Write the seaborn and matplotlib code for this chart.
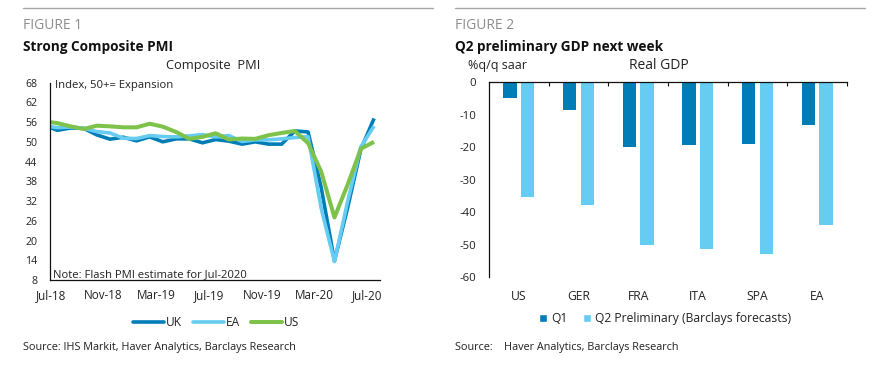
import numpy as np
import pandas as pd
import matplotlib
matplotlib.use("Agg")
import matplotlib.pyplot as plt
import seaborn as sns
from matplotlib.lines import Line2D
from matplotlib.patches import Patch
from matplotlib.ticker import FixedLocator

# ---------------- data ----------------
months = ["Jun-18", "Jul-18", "Aug-18", "Sep-18", "Oct-18", "Nov-18", "Dec-18",
          "Jan-19", "Feb-19", "Mar-19", "Apr-19", "May-19", "Jun-19", "Jul-19",
          "Aug-19", "Sep-19", "Oct-19", "Nov-19", "Dec-19", "Jan-20", "Feb-20",
          "Mar-20", "Apr-20", "May-20", "Jun-20", "Jul-20"]
uk = [55.1, 53.5, 54.2, 54.1, 52.1, 50.8, 51.4, 50.3, 51.5, 50.0, 50.9, 50.9, 49.7,
      50.7, 50.2, 49.3, 50.0, 49.3, 49.3, 53.3, 53.0, 36.0, 13.8, 30.0, 47.7, 57.1]
ea = [54.9, 54.3, 54.5, 54.1, 53.1, 52.7, 51.1, 51.0, 51.9, 51.6, 51.5, 51.8, 52.2,
      51.5, 51.9, 50.1, 50.6, 50.6, 50.9, 51.3, 51.6, 29.7, 13.6, 31.9, 48.5, 54.8]
us = [56.2, 55.7, 54.7, 53.9, 54.9, 54.7, 54.4, 54.4, 55.5, 54.6, 53.0, 50.9, 51.5,
      52.6, 50.7, 51.0, 50.9, 52.0, 52.7, 53.3, 49.6, 40.9, 27.0, 37.0, 47.9, 50.0]
pmi_tick_labels = ["Jul-18", "Nov-18", "Mar-19", "Jul-19", "Nov-19", "Mar-20", "Jul-20"]
pmi_yticks = [8, 14, 20, 26, 32, 38, 44, 50, 56, 62, 68]

countries = ["US", "GER", "FRA", "ITA", "SPA", "EA"]
gdp_q1 = [-4.8, -8.4, -19.8, -19.4, -19.0, -13.3]
gdp_q2 = [-35.2, -37.8, -50.0, -51.2, -52.7, -43.9]
gdp_yticks = [0, -10, -20, -30, -40, -50, -60]

# ---------------- style ----------------
sns.set_style("white")
FONT = ["Open Sans", "DejaVu Sans"]
plt.rcParams["font.family"] = FONT
plt.rcParams["axes.unicode_minus"] = False

C_UK = "#007DB6"
C_EA = "#66CCF2"
C_US = "#7DC24A"
TXT = "#222222"

W, H = 886, 365
fig = plt.figure(figsize=(W / 100, H / 100), dpi=100)


def rect(l, t, r, b):
    return [l / W, 1 - b / H, (r - l) / W, (b - t) / H]


def fx(x):
    return x / W


def fy(y):
    return 1 - y / H


# rules and headings
fig.add_artist(Line2D([fx(23), fx(433)], [fy(8), fy(8)], color="#a8a8a8", lw=1.0))
fig.add_artist(Line2D([fx(455), fx(865)], [fy(8), fy(8)], color="#a8a8a8", lw=1.0))
fig.text(fx(23), fy(29), "FIGURE 1", fontsize=10, color="#8c8c8c", va="baseline")
fig.text(fx(455), fy(29), "FIGURE 2", fontsize=10, color="#8c8c8c", va="baseline")
fig.text(fx(23), fy(50.5), "Strong Composite PMI", fontsize=9.8, fontweight="bold",
         color="#111111", va="baseline")
fig.text(fx(455), fy(50.5), "Q2 preliminary GDP next week", fontsize=9.8,
         fontweight="bold", color="#111111", va="baseline")

# ---------------- left: PMI lines ----------------
ax1 = fig.add_axes(rect(50, 82.6, 380, 280))
pos = np.arange(len(months))
df = pd.DataFrame({"pos": pos, "UK": uk, "EA": ea, "US": us})
for name, col, lw in [("UK", C_UK, 2.6), ("EA", C_EA, 2.6), ("US", C_US, 2.9)]:
    sns.lineplot(data=df, x="pos", y=name, color=col, linewidth=lw, ax=ax1,
                 solid_capstyle="butt")
ax1.set_xlim(0.45, 25.45)
ax1.set_ylim(8, 68)
ax1.set_yticks(pmi_yticks)
ax1.set_yticklabels([str(v) for v in pmi_yticks])
ax1.set_xticks([months.index(m) - 0.5 for m in pmi_tick_labels])
ax1.set_xticklabels(pmi_tick_labels)
ax1.set_xlabel("")
ax1.set_ylabel("")
for s in ["top", "right"]:
    ax1.spines[s].set_visible(False)
for s in ["left", "bottom"]:
    ax1.spines[s].set_color("#111111")
    ax1.spines[s].set_linewidth(0.9)
ax1.tick_params(axis="both", which="major", direction="out", length=3.2, width=0.8,
                color="#111111", labelcolor=TXT)
ax1.tick_params(axis="y", pad=6, labelsize=7.6)
ax1.tick_params(axis="x", pad=3.5, labelsize=8.4)

fig.text(fx(213), fy(69.3), "Composite  PMI", fontsize=9.3, ha="center",
         va="baseline", color=TXT)
fig.text(fx(55), fy(88), "Index, 50+= Expansion", fontsize=8.1, va="baseline",
         color=TXT)
fig.text(fx(53), fy(277), "Note: Flash PMI estimate for Jul-2020", fontsize=8.1,
         va="baseline", color=TXT)

h1 = [Line2D([], [], color=C_UK, lw=2.6), Line2D([], [], color=C_EA, lw=2.6),
      Line2D([], [], color=C_US, lw=2.9)]
fig.legend(h1, ["UK", "EA", "US"], loc="center", bbox_to_anchor=(fx(216), fy(322.5)),
           ncol=3, frameon=False, fontsize=8.6, handlelength=2.6, handletextpad=0.15,
           columnspacing=0.9, labelcolor=TXT)
fig.text(fx(23), fy(350), "Source: IHS Markit, Haver Analytics, Barclays Research",
         fontsize=7.8, va="baseline", color=TXT)

# ---------------- right: GDP bars ----------------
ax2 = fig.add_axes(rect(489, 82.2, 847, 277.3))
gdf = pd.DataFrame({
    "country": countries * 2,
    "value": gdp_q1 + gdp_q2,
    "quarter": ["Q1"] * len(countries) + ["Q2 Preliminary (Barclays forecasts)"] * len(countries),
})
sns.barplot(data=gdf, x="country", y="value", hue="quarter",
            palette={"Q1": C_UK, "Q2 Preliminary (Barclays forecasts)": C_EA},
            width=0.584, gap=0.23, ax=ax2, legend=False, saturation=1,
            edgecolor="none")
ax2.set_xlim(-0.5, 5.5)
ax2.set_ylim(-60, 0)
ax2.set_yticks(gdp_yticks)
ax2.set_yticklabels([str(v) for v in gdp_yticks])
ax2.set_xlabel("")
ax2.set_ylabel("")
for s in ["bottom", "right"]:
    ax2.spines[s].set_visible(False)
for s in ["left", "top"]:
    ax2.spines[s].set_color("#111111")
    ax2.spines[s].set_linewidth(0.9)
ax2.xaxis.set_minor_locator(FixedLocator([0.5, 1.5, 2.5, 3.5, 4.5, 5.5]))
ax2.tick_params(axis="x", which="major", length=0, pad=9, labelsize=8.7,
                labelcolor=TXT, bottom=True, top=False)
ax2.tick_params(axis="x", which="minor", top=True, bottom=False, direction="in",
                length=3.2, width=0.8, color="#111111")
ax2.tick_params(axis="y", direction="out", length=3.2, width=0.8, color="#111111",
                labelsize=8.2, labelcolor=TXT, pad=6)

fig.text(fx(468), fy(69.3), "%q/q saar", fontsize=9.0, va="baseline", color=TXT)
fig.text(fx(659), fy(69.3), "Real GDP", fontsize=10.0, ha="center", va="baseline",
         color=TXT)

h2 = [Patch(facecolor=C_UK), Patch(facecolor=C_EA)]
fig.legend(h2, ["Q1", "Q2 Preliminary (Barclays forecasts)"], loc="center",
           bbox_to_anchor=(fx(665), fy(318.5)), ncol=2, frameon=False, fontsize=8.7,
           handlelength=0.7, handleheight=0.7, handletextpad=0.3,
           columnspacing=1.3, labelcolor=TXT)
fig.text(fx(455), fy(350), "Source:    Haver Analytics, Barclays Research",
         fontsize=7.8, va="baseline", color=TXT)

fig.savefig("out.png", dpi=100)
